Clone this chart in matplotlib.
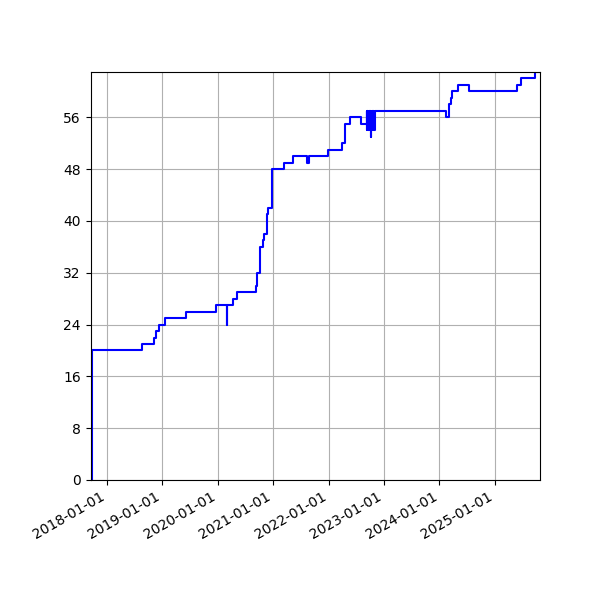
import matplotlib
matplotlib.use("Agg")
import matplotlib.pyplot as plt
import matplotlib.dates as mdates
import pandas as pd
import numpy as np

# change points of the running count (date, value)
dates = [
    "2017-09-14", "2017-09-21", "2017-09-26", "2018-08-22", "2018-11-05",
    "2018-11-20", "2018-12-10", "2019-01-16", "2019-06-04", "2019-12-20",
    "2020-02-28", "2020-03-01", "2020-04-13", "2020-05-09", "2020-09-07",
    "2020-09-15", "2020-10-03", "2020-10-23", "2020-11-01", "2020-11-18",
    "2020-11-27", "2020-12-23", "2021-03-15", "2021-05-13", "2021-08-14",
    "2021-08-27", "2021-12-27", "2022-03-31", "2022-04-19", "2022-05-18",
    "2022-08-03",
    "2022-09-09", "2022-09-11", "2022-09-13", "2022-09-15", "2022-09-17",
    "2022-09-19", "2022-09-21", "2022-09-23", "2022-09-25", "2022-09-27",
    "2022-09-29", "2022-10-01", "2022-10-03", "2022-10-05", "2022-10-07",
    "2022-10-09", "2022-10-11", "2022-10-13", "2022-10-15", "2022-10-17",
    "2022-10-19", "2022-10-21", "2022-10-23", "2022-10-25", "2022-10-27",
    "2022-10-29", "2022-10-30",
    "2024-02-11", "2024-03-04", "2024-03-15", "2024-03-26", "2024-05-05",
    "2024-07-12", "2025-05-27", "2025-06-23", "2025-09-23", "2025-10-25",
]
values = [
    0, 19, 20, 21, 22,
    23, 24, 25, 26, 27,
    24, 27, 28, 29, 30,
    32, 36, 37, 38, 41,
    42, 48, 49, 50, 49,
    50, 51, 52, 55, 56,
    55,
    57, 54, 57, 54, 57,
    54, 57, 54, 57, 54,
    57, 54, 57, 53, 57,
    54, 57, 54, 57, 54,
    57, 54, 57, 54, 57,
    54, 57,
    56, 58, 59, 60, 61,
    60, 61, 62, 63, 63,
]

x = pd.to_datetime(dates)
y = np.array(values)

fig, ax = plt.subplots(figsize=(6, 6), dpi=100)
ax.plot(x, y, color="b", linewidth=1.5, drawstyle="steps-post")

ax.set_xlim(x[0], x[-1])
ax.set_ylim(0, y.max())
ax.set_yticks(np.arange(0, 57, 8))
ax.xaxis.set_major_locator(mdates.YearLocator())
ax.xaxis.set_major_formatter(mdates.DateFormatter("%Y-%m-%d"))
ax.grid(True)

fig.autofmt_xdate()
fig.subplots_adjust(left=0.151, right=0.9, top=0.88, bottom=0.2)
fig.savefig("out.png")
